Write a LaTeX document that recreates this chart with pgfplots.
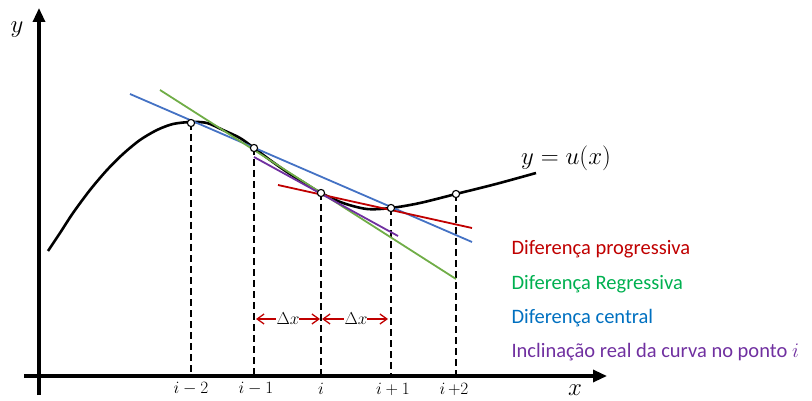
\documentclass[border=0pt]{standalone}
\usepackage{pgfplots}
\pgfplotsset{compat=1.18}
\usepackage{fontspec}
\setmainfont{Carlito}
\usetikzlibrary{arrows.meta}

\definecolor{fwdred}{HTML}{C00000}
\definecolor{bwdgreen}{HTML}{70AD47}
\definecolor{bwdtext}{HTML}{00B050}
\definecolor{cenblue}{HTML}{4472C4}
\definecolor{centext}{HTML}{0070C0}
\definecolor{slopepurple}{HTML}{7030A0}

\begin{document}
\begin{tikzpicture}
\begin{axis}[
  name=ax,
  scale only axis, width=812pt, height=401pt,
  xmin=0, xmax=812, ymin=0, ymax=401, y dir=reverse,
  axis lines=none, ticks=none, clip=false,
]
% coordinate axes
\draw[line width=3.2pt, -{Triangle[length=14pt,width=12pt]}] (axis cs:39,395) -- (axis cs:39,8);
\draw[line width=3.2pt, -{Triangle[length=14pt,width=12pt]}] (axis cs:24,376) -- (axis cs:607,376);
\node[font=\fontsize{26}{30}\selectfont] at (axis cs:17,30) {$y$};
\node[font=\fontsize{26}{30}\selectfont] at (axis cs:575,390) {$x$};

% dashed grid lines down to the nodes
\foreach \xx/\yy in {191/123, 254/148, 321/193, 391/208, 456/194}{
  \edef\tmp{\noexpand\addplot[black, line width=1.8pt, dash pattern=on 7pt off 4pt] coordinates {(\xx,\yy) (\xx,376)};}
  \tmp
}

% the curve y = u(x)
\addplot[black, line width=2.6pt, smooth] coordinates {
  (48,251) (60,233) (73,213) (90,190) (107,170) (123,154) (140,140)
  (157,130) (173,124) (191,122) (207,123) (223,130) (240,138)
  (254,148) (270,160) (287,172) (303,182) (321,193) (343,203)
  (367,209) (391,208) (420,203) (456,194) (496,184) (536,173)
};

% difference approximations of the slope
\addplot[cenblue, line width=1.8pt] coordinates {(130,94) (472,242)};
\addplot[bwdgreen, line width=1.8pt] coordinates {(160,90) (456,279)};
\addplot[fwdred, line width=1.8pt] coordinates {(278,185) (472,228)};
\addplot[slopepurple, line width=1.8pt] coordinates {(254,157) (398,236)};

% grid nodes
\addplot[only marks, mark=*, mark size=3.6pt, mark options={fill=white, draw=black, line width=1.1pt}]
  coordinates {(191,123) (254,148) (321,193) (391,208) (456,194)};

% step size
\draw[fwdred, line width=1.3pt, {Straight Barb[length=7pt,width=10pt]}-] (axis cs:256,319) -- (axis cs:276,319);
\draw[fwdred, line width=1.3pt, -{Straight Barb[length=7pt,width=10pt]}] (axis cs:299,319) -- (axis cs:320,319);
\node[font=\fontsize{16}{19}\selectfont] at (axis cs:288,319) {$\Delta x$};
\draw[fwdred, line width=1.3pt, {Straight Barb[length=7pt,width=10pt]}-] (axis cs:322,319) -- (axis cs:344,319);
\draw[fwdred, line width=1.3pt, -{Straight Barb[length=7pt,width=10pt]}] (axis cs:367,319) -- (axis cs:388,319);
\node[font=\fontsize{16}{19}\selectfont] at (axis cs:356,319) {$\Delta x$};

% node labels
\foreach \xx/\lab in {191/{i-2}, 256/{i-1}, 321/{i}, 393/{i+1}, 454/{i\,{+}2}}{
  \edef\tmp{\noexpand\node[font=\noexpand\fontsize{16}{19}\noexpand\selectfont] at (axis cs:\xx,389) {$\lab$};}
  \tmp
}

\node[font=\fontsize{23}{27}\selectfont] at (axis cs:566,158) {$y=u(x)$};

% key
\node[anchor=west, text=fwdred, font=\fontsize{20.5}{24}\selectfont] at (axis cs:508,249) {Diferença progressiva};
\node[anchor=west, text=bwdtext, font=\fontsize{20.5}{24}\selectfont] at (axis cs:508,284) {Diferença Regressiva};
\node[anchor=west, text=centext, font=\fontsize{20.5}{24}\selectfont] at (axis cs:508,318) {Diferença central};
\node[anchor=west, text=slopepurple, font=\fontsize{20.5}{24}\selectfont] at (axis cs:508,352) {Inclinação real da curva no ponto $i$};

\coordinate (bb1) at (rel axis cs:0,0);
\coordinate (bb2) at (rel axis cs:1,1);
\end{axis}
\pgfresetboundingbox
\path (bb1) rectangle (bb2);
\end{tikzpicture}
\end{document}
